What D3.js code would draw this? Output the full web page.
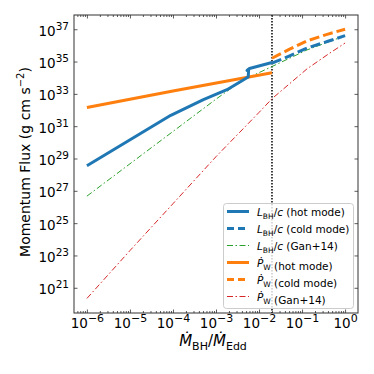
<!DOCTYPE html>
<html lang="en">
<head>
<meta charset="utf-8">
<title>Momentum flux</title>
<script src="https://d3js.org/d3.v7.min.js"></script>
<style>
body{margin:0;background:#fff;}
svg{display:block;font-family:"DejaVu Sans",sans-serif;}
</style>
</head>
<body>
<div id="chart"></div>
<script>
// values (x = Mdot_BH/Mdot_Edd, y = momentum flux)
var lbhHotX  = [1e-6, 8.9e-5, 5.1e-4, 1.8e-3, 5.6e-3, 5.75e-3, 5.25e-3, 6.0e-3, 2.0e-2];
var lbhHotY  = [3.6e28, 4.7e31, 4.4e32, 1.8e33, 1.1e34, 3.3e34, 2.8e34, 3.7e34, 8.7e34];
var lbhColdX = [2.0e-2, 0.05, 0.13, 0.4, 1.0];
var lbhColdY = [7.9e34, 2.2e35, 6.8e35, 1.8e36, 4.0e36];
var lbhGanX  = [1e-6, 1e-5, 1e-4, 1e-3, 2.5e-3, 5.6e-3, 2.0e-2, 0.13, 1.0];
var lbhGanY  = [4.7e26, 4.7e28, 4.7e30, 4.7e32, 2.7e33, 1.0e34, 4.9e34, 5.2e35, 4.0e36];
var pwHotX   = [1e-6, 1e-4, 2.0e-2];
var pwHotY   = [1.45e32, 1.5e33, 2.0e34];
var pwColdX  = [2.0e-2, 0.05, 0.13, 0.4, 1.0];
var pwColdY  = [1.6e35, 5.6e35, 1.9e36, 5.0e36, 1.0e37];
var pwGanX   = [1e-6, 1e-5, 1e-4, 1e-3, 1e-2, 2.0e-2, 0.05, 0.13, 0.4, 1.0];
var pwGanY   = [2.2e20, 2.0e23, 1.6e26, 1.3e29, 7.1e31, 5.0e32, 4.0e33, 3.5e34, 2.8e35, 1.4e36];
var xMajor = [-6, -5, -4, -3, -2, -1, 0];
var yMajor = [21, 23, 25, 27, 29, 31, 33, 35, 37];
var mdotSplit = 0.02;

var w = 374, h = 374;
var mLeft = 74, mRight = 358, mTop = 15, mBottom = 313;

var svg = d3.select("#chart").append("svg").attr("width", w).attr("height", h);

var x = d3.scaleLog().domain([Math.pow(10,-6.3), Math.pow(10,0.3)]).range([mLeft, mRight]);
var y = d3.scaleLog().domain([Math.pow(10,19.44), Math.pow(10,37.88)]).range([mBottom, mTop]);

function pts(xs, ys){ return xs.map(function(v,i){ return [v, ys[i]]; }); }
var line = d3.line().x(function(d){return x(d[0]);}).y(function(d){return y(d[1]);});

var series = [
  {name:"pwGan",  data:pts(pwGanX,pwGanY),   color:"#d62728", width:1, dash:"6,2.5,1.5,2.5"},
  {name:"lbhGan", data:pts(lbhGanX,lbhGanY), color:"#2ca02c", width:1, dash:"6,2.5,1.5,2.5"},
  {name:"pwHot",  data:pts(pwHotX,pwHotY),   color:"#ff7f0e", width:3, dash:null},
  {name:"pwCold", data:pts(pwColdX,pwColdY), color:"#ff7f0e", width:3, dash:"10,4"},
  {name:"lbhHot", data:pts(lbhHotX,lbhHotY), color:"#1f77b4", width:3, dash:null},
  {name:"lbhCold",data:pts(lbhColdX,lbhColdY),color:"#1f77b4", width:3, dash:"10,4"}
];

var plot = svg.append("g");
plot.append("clipPath").attr("id","clip").append("rect")
  .attr("x",mLeft).attr("y",mTop).attr("width",mRight-mLeft).attr("height",mBottom-mTop);

// dotted transition line
plot.append("line")
  .attr("x1", x(mdotSplit)).attr("x2", x(mdotSplit))
  .attr("y1", mTop).attr("y2", mBottom)
  .attr("stroke","#000").attr("stroke-width",1.5).attr("stroke-dasharray","1.5,1.5");

plot.selectAll("path.series").data(series).enter().append("path")
  .attr("class","series")
  .attr("clip-path","url(#clip)")
  .attr("d", function(d){ return line(d.data); })
  .attr("fill","none")
  .attr("stroke", function(d){ return d.color; })
  .attr("stroke-width", function(d){ return d.width; })
  .attr("stroke-dasharray", function(d){ return d.dash; })
  .attr("stroke-linejoin","round");

// ticks (inward on all sides)
var xMinor = [];
for (var e = -7; e <= 0; e++) for (var k = 2; k <= 9; k++) {
  var v = k*Math.pow(10,e);
  if (v > x.domain()[0] && v < x.domain()[1]) xMinor.push(v);
}
var xMajVals = xMajor.map(function(p){return Math.pow(10,p);});
var yMajVals = yMajor.map(function(p){return Math.pow(10,p);});

function style(g){
  g.select(".domain").remove();
  g.selectAll(".tick line").attr("stroke","#333").attr("stroke-width",0.8);
}
svg.append("g").attr("transform","translate(0,"+mBottom+")")
  .call(d3.axisBottom(x).tickValues(xMinor).tickSize(-2).tickFormat("")).call(style);
svg.append("g").attr("transform","translate(0,"+mTop+")")
  .call(d3.axisTop(x).tickValues(xMinor).tickSize(-2).tickFormat("")).call(style);
svg.append("g").attr("transform","translate(0,"+mTop+")")
  .call(d3.axisTop(x).tickValues(xMajVals).tickSize(-3.5).tickFormat("")).call(style);
svg.append("g").attr("transform","translate("+mRight+",0)")
  .call(d3.axisRight(y).tickValues(yMajVals).tickSize(-3.5).tickFormat("")).call(style);

var xAxis = svg.append("g").attr("transform","translate(0,"+mBottom+")")
  .call(d3.axisBottom(x).tickValues(xMajVals).tickSize(-3.5).tickPadding(5).tickFormat("")).call(style);
xAxis.selectAll(".tick text").each(function(d){
  var t = d3.select(this).attr("font-size",13.5).attr("fill","#000").attr("font-family","DejaVu Sans");
  var p = Math.round(Math.log10(d));
  t.append("tspan").text("10");
  t.append("tspan").attr("dy",-6).attr("font-size",11).text(p < 0 ? "\u2212" + (-p) : String(p));
});

var yAxis = svg.append("g").attr("transform","translate("+mLeft+",0)")
  .call(d3.axisLeft(y).tickValues(yMajVals).tickSize(-3.5).tickPadding(5).tickFormat("")).call(style);
yAxis.selectAll(".tick text").each(function(d){
  var t = d3.select(this).attr("font-size",13.5).attr("fill","#000").attr("font-family","DejaVu Sans").attr("dy","0.45em");
  var p = Math.round(Math.log10(d));
  t.append("tspan").text("10");
  t.append("tspan").attr("dy",-6).attr("font-size",10.5).text(String(p));
});

// frame
svg.append("rect").attr("x",mLeft).attr("y",mTop).attr("width",mRight-mLeft).attr("height",mBottom-mTop)
  .attr("fill","none").attr("stroke","#333").attr("stroke-width",1);

// axis labels
var yl = svg.append("text")
  .attr("transform","translate(30,"+((mTop+mBottom)/2 - 2)+") rotate(-90)")
  .attr("text-anchor","middle").attr("font-size",14);
yl.append("tspan").text("Momentum Flux (g cm s");
yl.append("tspan").attr("dy",-6).attr("font-size",10).text("\u22122");
yl.append("tspan").attr("dy",6).text(")");

var xl = svg.append("text").attr("x",(mLeft+mRight)/2 - 3).attr("y",346)
  .attr("text-anchor","middle").attr("font-size",15);
xl.append("tspan").attr("font-style","italic").text("\u1E40");
xl.append("tspan").attr("dy",4).attr("font-size",11).text("BH");
xl.append("tspan").attr("dy",-4).text("/");
xl.append("tspan").attr("font-style","italic").text("\u1E40");
xl.append("tspan").attr("dy",4).attr("font-size",11).text("Edd");

// legend
var legendRows = [
  {sym:"L", sub:"BH", tail:"/", it2:"c", text:" (hot mode)",  color:"#1f77b4", width:3, dash:null},
  {sym:"L", sub:"BH", tail:"/", it2:"c", text:" (cold mode)", color:"#1f77b4", width:3, dash:"7,4"},
  {sym:"L", sub:"BH", tail:"/", it2:"c", text:" (Gan+14)",    color:"#2ca02c", width:1, dash:"6,2.5,1.5,2.5"},
  {sym:"\u1E56", sub:"W", tail:"", it2:"", text:" (hot mode)",  color:"#ff7f0e", width:3, dash:null},
  {sym:"\u1E56", sub:"W", tail:"", it2:"", text:" (cold mode)", color:"#ff7f0e", width:3, dash:"7,4"},
  {sym:"\u1E56", sub:"W", tail:"", it2:"", text:" (Gan+14)",    color:"#d62728", width:1, dash:"6,2.5,1.5,2.5"}
];
var lg = svg.append("g");
lg.append("rect").attr("x",223.5).attr("y",203.5).attr("width",130).attr("height",105)
  .attr("rx",3).attr("fill","#fff").attr("fill-opacity",0.8).attr("stroke","#ccc").attr("stroke-width",1);
var row = lg.selectAll("g.row").data(legendRows).enter().append("g")
  .attr("transform", function(d,i){ return "translate(0," + (211.5 + i*17) + ")"; });
row.append("line").attr("x1",227).attr("x2",249).attr("y1",0).attr("y2",0)
  .attr("stroke",function(d){return d.color;}).attr("stroke-width",function(d){return d.width;})
  .attr("stroke-dasharray",function(d){return d.dash;});
var rt = row.append("text").attr("x",257).attr("y",4).attr("font-size",10.5);
rt.append("tspan").attr("font-style","italic").text(function(d){return d.sym;});
rt.append("tspan").attr("dy",3).attr("font-size",7.5).text(function(d){return d.sub;});
rt.append("tspan").attr("dy",-3).text(function(d){return d.tail;});
rt.append("tspan").attr("font-style","italic").text(function(d){return d.it2;});
rt.append("tspan").text(function(d){return d.text;});
</script>
</body>
</html>
